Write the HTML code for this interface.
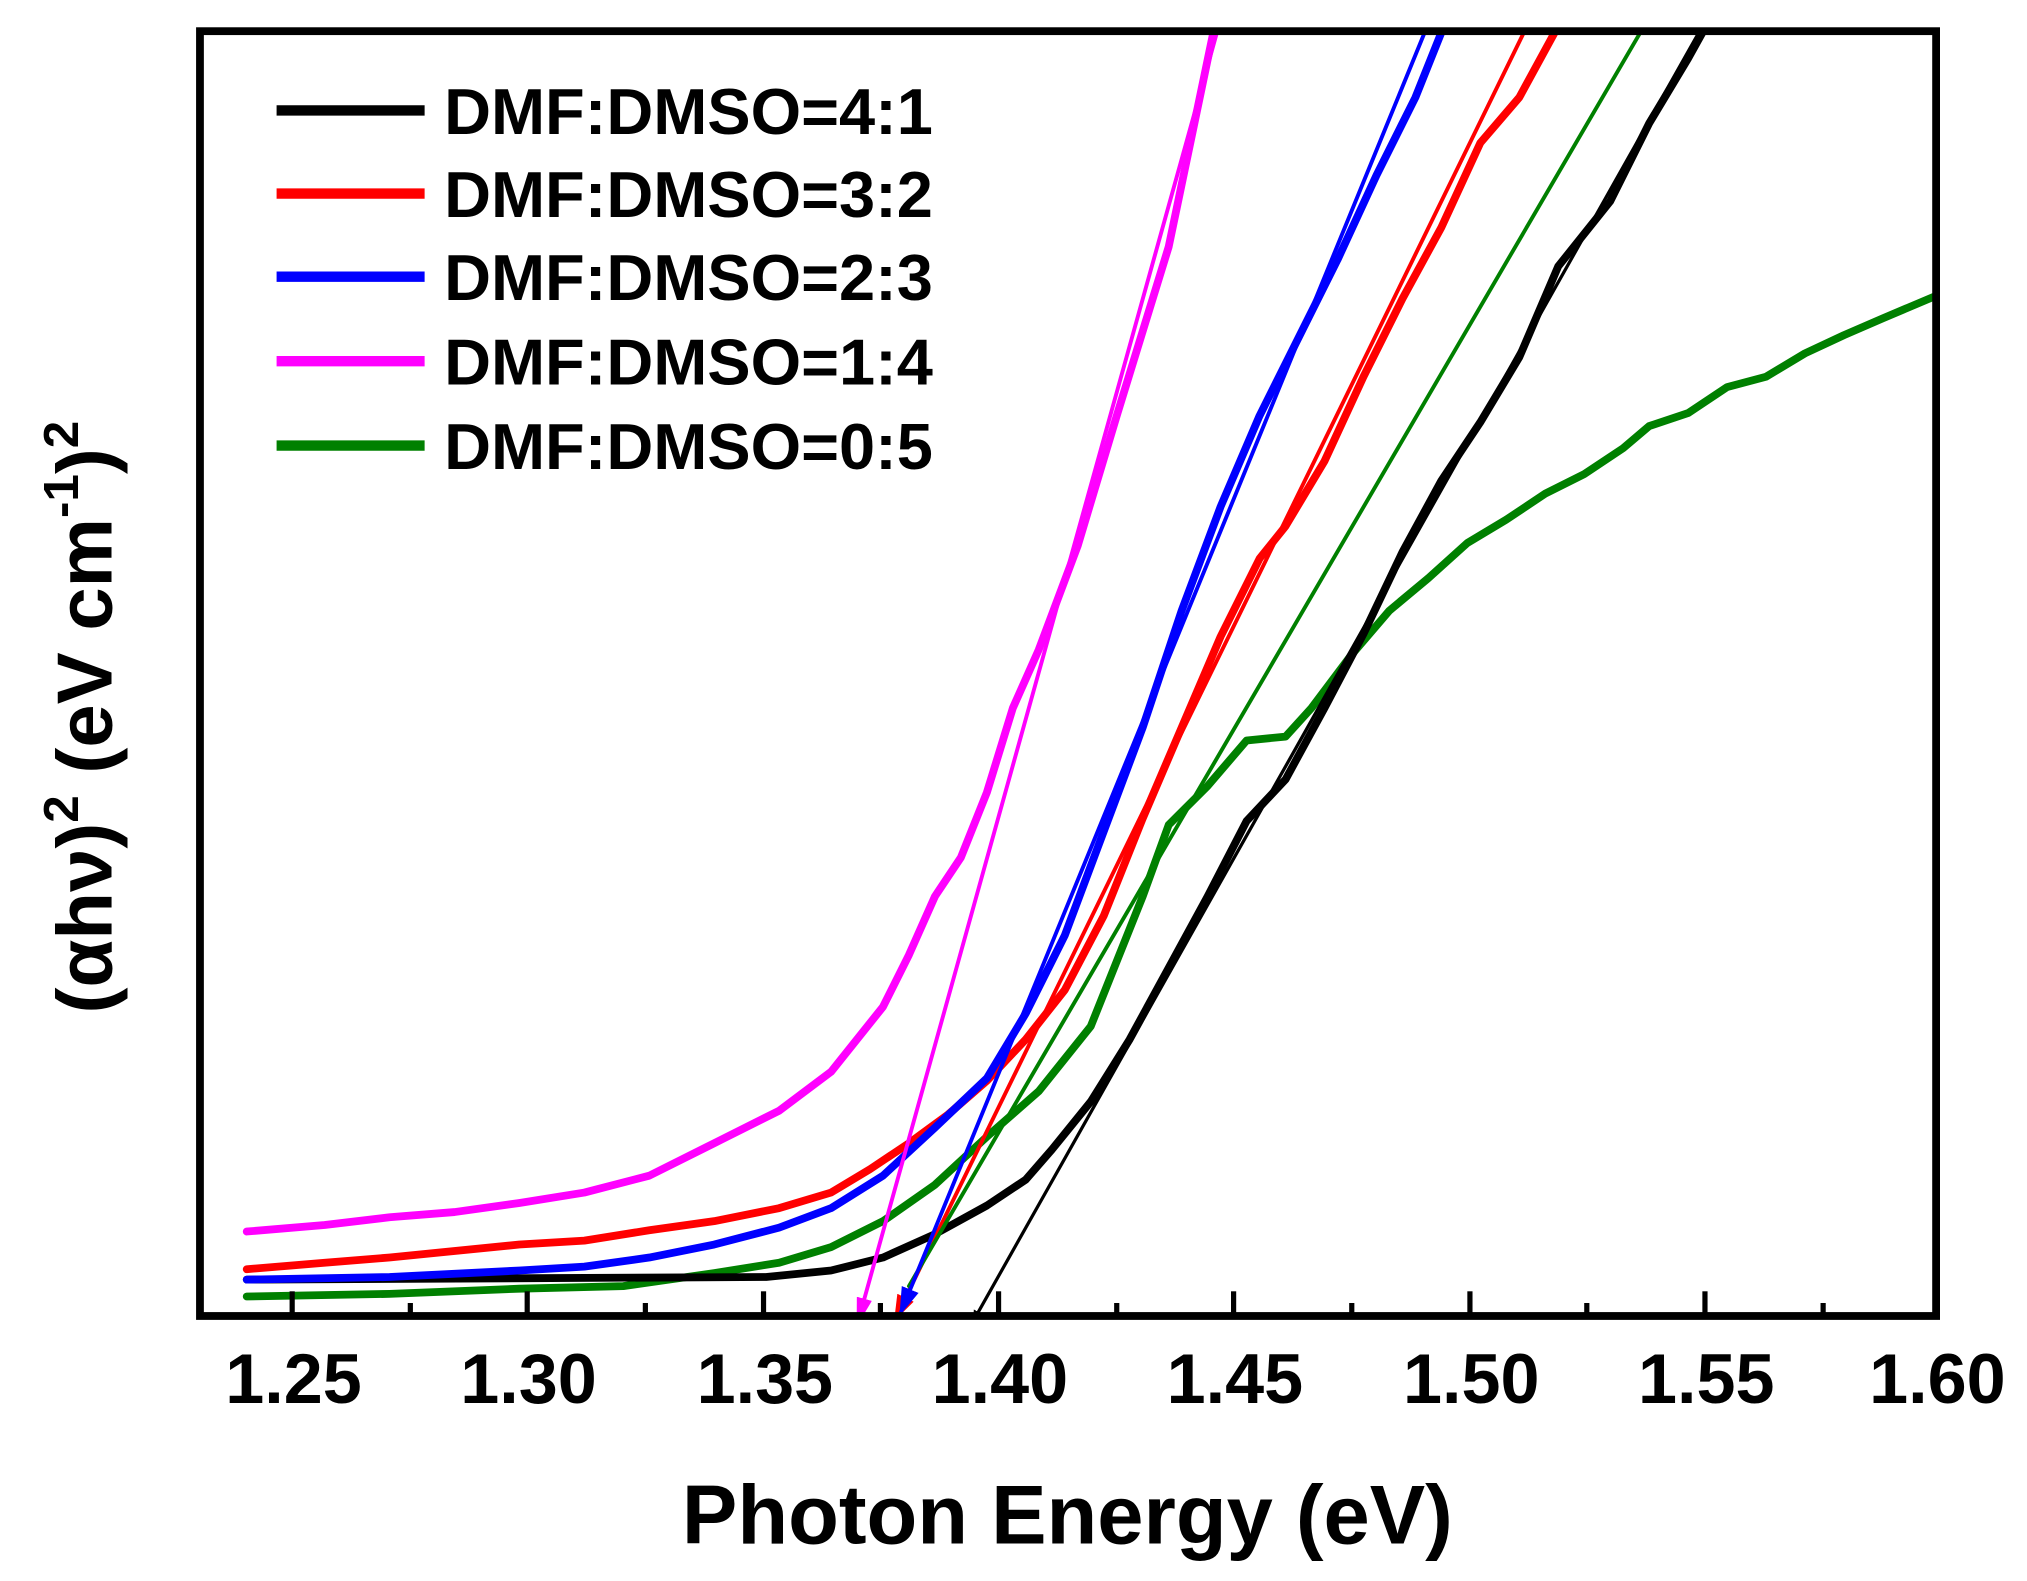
<!DOCTYPE html>
<html><head><meta charset="utf-8"><style>
html,body{margin:0;padding:0;background:#fff;}
svg{display:block;}
text{font-family:"Liberation Sans",Arial,sans-serif;font-weight:bold;fill:#000;}
</style></head><body>
<svg width="2027" height="1581" viewBox="0 0 1561 1217" preserveAspectRatio="none" xmlns="http://www.w3.org/2000/svg">
<defs>
<marker id="ak" markerWidth="8" markerHeight="8" refX="7" refY="4" orient="auto" markerUnits="userSpaceOnUse"><path d="M0,0 L8,4 L0,8 z" fill="#000"/></marker>
<marker id="ar" markerWidth="20" markerHeight="14" refX="19" refY="7" orient="auto" markerUnits="userSpaceOnUse"><path d="M0,0 L20,7 L0,14 z" fill="#f00"/></marker>
<marker id="ab" markerWidth="22" markerHeight="14" refX="21" refY="7" orient="auto" markerUnits="userSpaceOnUse"><path d="M0,0 L22,7 L0,14 z" fill="#00f"/></marker>
<marker id="am" markerWidth="22" markerHeight="12" refX="21" refY="6" orient="auto" markerUnits="userSpaceOnUse"><path d="M0,0 L22,6 L0,12 z" fill="#f0f"/></marker>
<clipPath id="c"><rect x="152" y="22" width="1341" height="993"/></clipPath>
</defs>
<g clip-path="url(#c)" fill="none" stroke-linejoin="round" stroke-linecap="round">
<polyline stroke="#008000" stroke-width="6" points="190,998 300,996 400,992 480,990 550,980 600,972 640,960 680,940 720,912 760,875 800,840 840,790 860,740 880,690 900,635 930,605 960,570 990,567 1010,545 1040,505 1070,470 1100,445 1130,418 1160,400 1190,380 1220,365 1250,345 1270,328 1300,318 1330,298 1360,290 1390,272 1420,258 1450,245 1495,226"/>
<polyline stroke="#000" stroke-width="6" points="190,985 590,983 640,978 680,968 720,950 760,928 790,908 810,885 840,848 870,800 900,745 930,690 960,632 990,600 1020,545 1050,488 1080,425 1110,370 1140,325 1170,275 1200,205 1240,155 1270,95 1300,45 1315,18"/>
<polyline stroke="#f00" stroke-width="6" points="190,977 250,972 300,968 350,963 400,958 450,955 500,947 550,940 600,930 640,918 670,900 700,880 730,858 760,832 790,800 820,762 850,705 880,630 910,560 940,490 970,430 990,405 1020,355 1050,290 1080,230 1110,175 1140,110 1170,75 1200,20"/>
<polyline stroke="#00f" stroke-width="6" points="190,985 300,983 400,978 450,975 500,968 550,958 600,945 640,930 680,905 720,868 760,830 790,780 820,720 850,640 880,560 910,470 940,390 970,320 1000,260 1030,200 1060,135 1090,75 1112,20"/>
<polyline stroke="#f0f" stroke-width="6" points="190,948 250,943 300,937 350,933 400,926 450,918 500,905 550,880 600,855 640,825 680,775 700,735 720,690 740,660 760,610 780,545 800,500 830,420 860,320 900,190 935,22"/>
<line x1="1310" y1="22" x2="750" y2="1016" stroke="#000" stroke-width="2.5" marker-end="url(#ak)"/>
<line x1="1175" y1="22" x2="689" y2="1016" stroke="#f00" stroke-width="3" marker-end="url(#ar)"/>
<line x1="1265" y1="22" x2="700" y2="990" stroke="#008000" stroke-width="3"/>
<line x1="1100" y1="18" x2="693" y2="1012" stroke="#00f" stroke-width="3" marker-end="url(#ab)"/>
<line x1="938" y1="22" x2="660" y2="1020" stroke="#f0f" stroke-width="3" marker-end="url(#am)"/>
</g>
<g stroke="#000" stroke-width="4">
<line x1="225" y1="1013" x2="225" y2="994"/><line x1="406" y1="1013" x2="406" y2="994"/>
<line x1="588" y1="1013" x2="588" y2="994"/><line x1="769" y1="1013" x2="769" y2="994"/>
<line x1="950" y1="1013" x2="950" y2="994"/><line x1="1132" y1="1013" x2="1132" y2="994"/>
<line x1="1313" y1="1013" x2="1313" y2="994"/>
<line x1="316" y1="1013" x2="316" y2="1003"/><line x1="497" y1="1013" x2="497" y2="1003"/>
<line x1="678" y1="1013" x2="678" y2="1003"/><line x1="860" y1="1013" x2="860" y2="1003"/>
<line x1="1041" y1="1013" x2="1041" y2="1003"/><line x1="1222" y1="1013" x2="1222" y2="1003"/>
<line x1="1404" y1="1013" x2="1404" y2="1003"/>
</g>
<rect x="154" y="24" width="1337" height="989" fill="none" stroke="#000" stroke-width="6"/>
<g font-size="54" text-anchor="middle">
<text x="226" y="1080">1.25</text><text x="407" y="1080">1.30</text><text x="589" y="1080">1.35</text>
<text x="770" y="1080">1.40</text><text x="951" y="1080">1.45</text><text x="1133" y="1080">1.50</text>
<text x="1314" y="1080">1.55</text><text x="1492" y="1080">1.60</text>
</g>
<text x="822" y="1188" font-size="64" text-anchor="middle">Photon Energy (eV)</text>
<text transform="translate(86,552) rotate(-90)" font-size="60" text-anchor="middle">(αhν)<tspan font-size="38" dy="-26">2</tspan><tspan dy="26"> (eV cm</tspan><tspan font-size="38" dy="-26">-1</tspan><tspan dy="26">)</tspan><tspan font-size="38" dy="-26">2</tspan></text>
<g stroke-width="8">
<line x1="213" y1="85" x2="327" y2="85" stroke="#000"/>
<line x1="213" y1="149" x2="327" y2="149" stroke="#f00"/>
<line x1="213" y1="213" x2="327" y2="213" stroke="#00f"/>
<line x1="213" y1="278" x2="327" y2="278" stroke="#f0f"/>
<line x1="213" y1="343" x2="327" y2="343" stroke="#008000"/>
</g>
<g font-size="50">
<text x="342" y="103">DMF:DMSO=4:1</text>
<text x="342" y="167">DMF:DMSO=3:2</text>
<text x="342" y="231">DMF:DMSO=2:3</text>
<text x="342" y="296">DMF:DMSO=1:4</text>
<text x="342" y="361">DMF:DMSO=0:5</text>
</g>
</svg>
</body></html>
